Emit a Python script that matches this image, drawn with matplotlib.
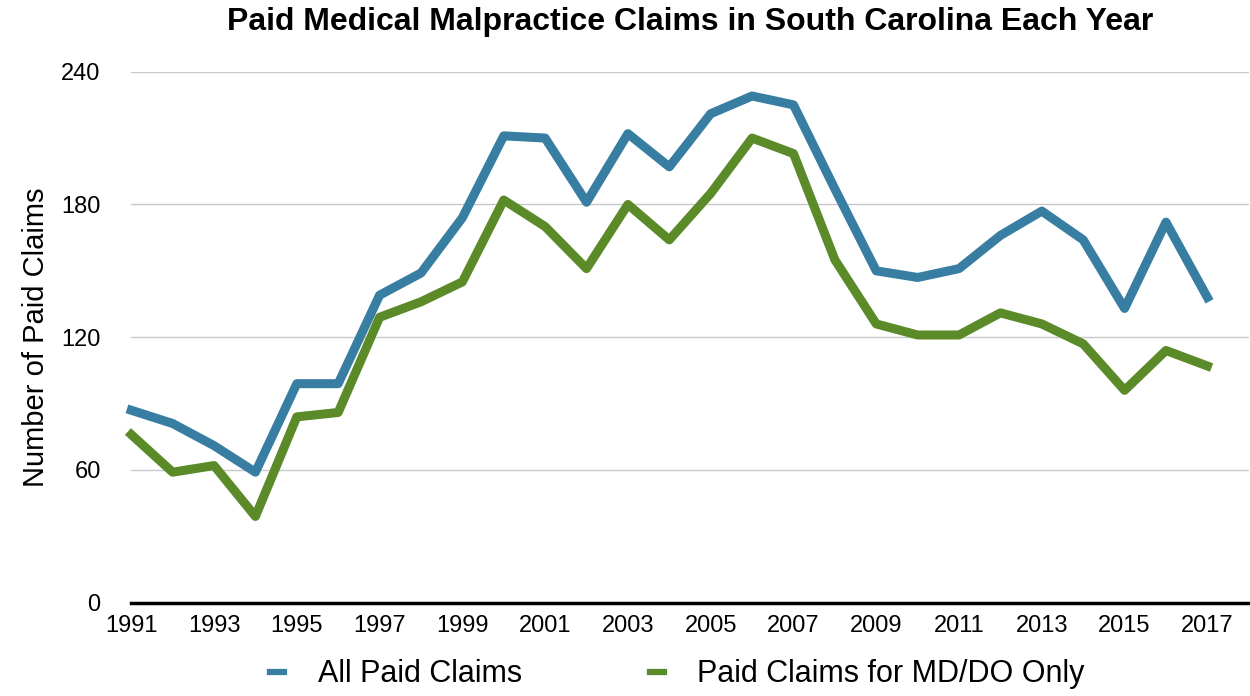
import matplotlib
matplotlib.use("Agg")
import matplotlib.pyplot as plt

plt.rcParams['font.family'] = ['Liberation Sans', 'DejaVu Sans']

# values
years = list(range(1991, 2018))
all_paid = [87, 81, 71, 59, 99, 99, 139, 149, 174, 211, 210, 181, 212, 197, 221, 229, 225, 187, 150, 147, 151, 166, 177, 164, 133, 172, 138]
md_do_only = [76, 59, 62, 39, 84, 86, 129, 136, 145, 182, 170, 151, 180, 164, 185, 210, 203, 155, 126, 121, 121, 131, 126, 117, 96, 114, 107]
yticks = [0, 60, 120, 180, 240]
xticks = list(range(1991, 2018, 2))

blue = "#377ea2"
green = "#5b8a29"

fig = plt.figure(figsize=(12.5, 6.96), dpi=100)
ax = fig.add_axes([0.105, 0.134, 0.894, 0.763])

ax.plot(years, all_paid, color=blue, lw=6.5, label="All Paid Claims", clip_on=False)
ax.plot(years, md_do_only, color=green, lw=6.5, label="Paid Claims for MD/DO Only", clip_on=False)

ax.set_xlim(1991, 2018)
ax.set_ylim(0, 240)
ax.set_yticks(yticks)
ax.set_xticks(xticks)
ax.tick_params(axis="both", length=0, labelsize=17)
ax.tick_params(axis="y", pad=22)
ax.tick_params(axis="x", pad=9)
ax.grid(axis="y", color="#c8c8c8", lw=1)
ax.set_axisbelow(True)
for s in ["top", "right", "left"]:
    ax.spines[s].set_visible(False)
ax.spines["bottom"].set_linewidth(2.5)
ax.spines["bottom"].set_color("black")

ax.set_ylabel("Number of Paid Claims", fontsize=21, labelpad=8)
fig.suptitle("Paid Medical Malpractice Claims in South Carolina Each Year",
             fontsize=23, fontweight="bold", x=0.552, y=0.99)

leg = fig.legend(loc="lower center", bbox_to_anchor=(0.542, -0.03), ncol=2, frameon=False,
                 fontsize=22, handlelength=0.45, columnspacing=4.2, handletextpad=1.1)
for ln in leg.get_lines():
    ln.set_linewidth(4.5)

fig.savefig("out.png", dpi=100)
